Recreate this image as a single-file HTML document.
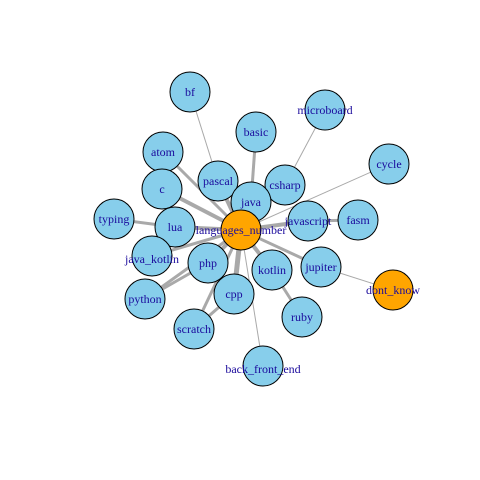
<!DOCTYPE html>
<html><head><meta charset="utf-8"><style>
html,body{margin:0;padding:0;background:#fff;width:480px;height:480px;overflow:hidden}
svg text{font-family:"Liberation Serif",serif;font-size:12px;fill:#1a0a9c;text-anchor:middle;dominant-baseline:central}
</style></head><body>
<svg id="chart" width="480" height="480" viewBox="0 0 480 480" xmlns="http://www.w3.org/2000/svg">
<g id="edges"></g>
<g id="nodes"></g>
<g id="labels"></g>
</svg>
<script>
const nodeNames = ["bf","microboard","basic","cycle","atom","pascal","csharp","c","typing","lua","javascript","fasm","java_kotlin","php","python","scratch","cpp","ruby","kotlin","jupiter","dont_know","back_front_end","java","languages_number"];
const nodeX = [190,325,256,389,163,218,285,162,114,175,308,358,152,208,145,194,234,302,272,321,393,263,251,241];
const nodeY = [92,110,132,164,152,181,185,189,219,227,221,220,256,263,299,329,294,317,270,267,290,366,202,230];
const nodeOrange = ["languages_number","dont_know"];
const edgeFrom = ["languages_number","languages_number","languages_number","languages_number","languages_number","languages_number","languages_number","languages_number","languages_number","languages_number","languages_number","languages_number","languages_number","languages_number","languages_number","languages_number","bf","microboard","basic","typing","python","scratch","ruby","jupiter","fasm"];
const edgeTo = ["java","pascal","csharp","atom","c","lua","javascript","java_kotlin","php","cpp","kotlin","jupiter","cycle","back_front_end","python","scratch","pascal","csharp","java","lua","php","cpp","kotlin","dont_know","javascript"];
const edgeWidth = [5,4,3,3,4,4,4,3,4,5,4,3,1,1,3,3,1,1,3,3,3,3,3,1,3];

const idx = n => nodeNames.indexOf(n);
const ns = "http://www.w3.org/2000/svg";
const eg = document.getElementById("edges");
edgeFrom.forEach((f,i)=>{
  const a=idx(f), b=idx(edgeTo[i]);
  const l=document.createElementNS(ns,"line");
  l.setAttribute("x1",nodeX[a]);l.setAttribute("y1",nodeY[a]);
  l.setAttribute("x2",nodeX[b]);l.setAttribute("y2",nodeY[b]);
  l.setAttribute("stroke","#a9a9a9");l.setAttribute("stroke-width",edgeWidth[i]);
  
  
  eg.appendChild(l);
});
const ng=document.getElementById("nodes"), lg=document.getElementById("labels");
nodeNames.forEach((n,i)=>{
  const c=document.createElementNS(ns,"circle");
  c.setAttribute("cx",nodeX[i]);c.setAttribute("cy",nodeY[i]);c.setAttribute("r",20);
  c.setAttribute("fill",nodeOrange.includes(n)?"#ffa500":"#87ceeb");
  c.setAttribute("stroke","#000");c.setAttribute("stroke-width",1);
  
  
  ng.appendChild(c);
  const t=document.createElementNS(ns,"text");
  t.setAttribute("x",nodeX[i]);t.setAttribute("y",nodeY[i]+(n==="java_kotlin"||n==="back_front_end"?3:0));
  t.textContent=n;
  
  
  lg.appendChild(t);
});
</script>
</body></html>
